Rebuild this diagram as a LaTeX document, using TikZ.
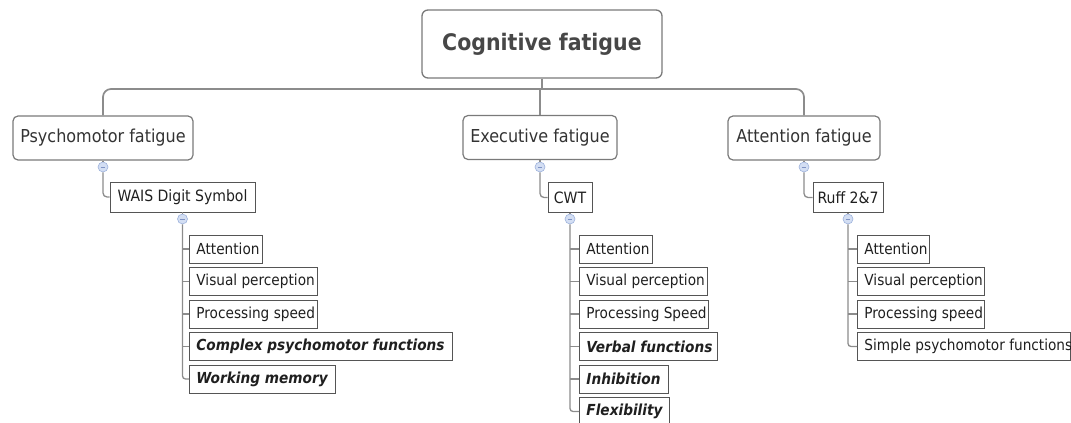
\documentclass[tikz,border=0pt]{standalone}
\usepackage{fontspec}
\setmainfont{DejaVu Sans Condensed}
\definecolor{edge}{HTML}{8C8C8C}
\definecolor{rbord}{HTML}{7A7A7A}
\definecolor{sbord}{HTML}{555555}
\definecolor{roottext}{HTML}{474747}
\definecolor{topictext}{HTML}{333333}
\definecolor{mfill}{HTML}{D3DEF3}
\definecolor{mdraw}{HTML}{9DB2DC}
\definecolor{mbar}{HTML}{7F93C4}
\newcommand\leafnode[5]{\node[leaf] (#1) at (#2,#3) {\makebox[\dimexpr#4pt-14pt\relax][l]{#5}};}
\newcommand\bi[1]{\textbf{\textit{#1}}}
\tikzset{
  rootbox/.style={draw=rbord, line width=1.3pt, rounded corners=6pt, minimum width=240pt, minimum height=68pt, inner sep=0pt, font=\fontsize{22.8}{26}\selectfont\bfseries, text=roottext},
  topic/.style={draw=rbord, line width=1.2pt, rounded corners=5pt, minimum height=44pt, inner sep=0pt, font=\fontsize{17.8}{20}\selectfont, text=topictext},
  sub/.style={draw=sbord, line width=0.9pt, minimum height=30pt, inner sep=0pt, font=\fontsize{15.6}{18}\selectfont, text=black!88},
  leaf/.style={draw=sbord, line width=0.9pt, minimum height=28pt, inner xsep=7pt, inner ysep=0pt, font=\fontsize{15.2}{17}\selectfont, text=black!88, anchor=west},
  minus/.style={circle, draw=mdraw, fill=mfill, line width=0.6pt, minimum size=10pt, inner sep=0pt,
    path picture={\draw[mbar, line width=0.7pt] ([xshift=-2.4pt]path picture bounding box.center) -- ([xshift=2.4pt]path picture bounding box.center);}},
  conn/.style={draw=edge, line width=1.7pt},
  conn2/.style={draw=edge, line width=1.3pt}
}
\begin{document}
\begin{tikzpicture}[x=1pt, y=-1pt]
\useasboundingbox (0,0) rectangle (1071,423);
% root and bus
\node[rootbox] (root) at (542,44) {Cognitive fatigue};
\coordinate (bus) at (0,89);
% topics
\node[topic, minimum width=180pt] (psy) at (103,138) {Psychomotor fatigue};
\node[topic, minimum width=154pt] (exe) at (540,137.5) {Executive fatigue};
\node[topic, minimum width=152pt] (att) at (804,138) {Attention fatigue};
% minus markers under topics
\node[minus] (c1) at (103,167) {};
\node[minus] (c2) at (540,167) {};
\node[minus] (c3) at (804,167) {};
% sub nodes
\node[sub, minimum width=145pt] (wais) at (182.5,197) {WAIS Digit Symbol};
\node[sub, minimum width=44pt] (cwt) at (570,197.5) {CWT};
\node[sub, minimum width=70pt] (ruff) at (848,197.5) {Ruff 2\&7};
% minus markers under subs
\node[minus] (d1) at (182.5,219) {};
\node[minus] (d2) at (570,219) {};
\node[minus] (d3) at (848,219) {};
% leaves: psychomotor
\leafnode{p1}{189}{249}{73}{Attention}
\leafnode{p2}{189}{281.5}{128}{Visual perception}
\leafnode{p3}{189}{314}{128}{Processing speed}
\leafnode{p4}{189}{346.5}{263}{\bi{Complex psychomotor functions}}
\leafnode{p5}{189}{379}{146}{\bi{Working memory}}
% leaves: executive
\leafnode{e1}{579}{249}{73}{Attention}
\leafnode{e2}{579}{281.5}{128}{Visual perception}
\leafnode{e3}{579}{314}{129}{Processing Speed}
\leafnode{e4}{579}{346.5}{138}{\bi{Verbal functions}}
\leafnode{e5}{579}{379}{89}{\bi{Inhibition}}
\leafnode{e6}{579}{411.5}{90}{\bi{Flexibility}}
% leaves: attention
\leafnode{a1}{857}{249}{72}{Attention}
\leafnode{a2}{857}{281.5}{127}{Visual perception}
\leafnode{a3}{857}{314}{127}{Processing speed}
\leafnode{a4}{857}{346.5}{213}{Simple psychomotor functions}
% top connectors
\draw[conn, rounded corners=8pt] (psy.north) -- (psy.north |- bus) -- (att.north |- bus) -- (att.north);
\draw[conn] (root.south) -- (root.south |- bus) -- (exe.north |- bus) -- (exe.north);
% topic to marker
\draw[conn2] (psy.south) -- (c1.north);
\draw[conn2] (exe.south) -- (c2.north);
\draw[conn2] (att.south) -- (c3.north);
% marker to sub
\draw[conn2, rounded corners=4pt] (c1.south) -- (c1.south |- wais.west) -- (wais.west);
\draw[conn2, rounded corners=4pt] (c2.south) -- (c2.south |- cwt.west) -- (cwt.west);
\draw[conn2, rounded corners=4pt] (c3.south) -- (c3.south |- ruff.west) -- (ruff.west);
% sub to marker
\draw[conn2] (wais.south) -- (d1.north);
\draw[conn2] (cwt.south) -- (d2.north);
\draw[conn2] (ruff.south) -- (d3.north);
% marker to leaves
\draw[conn2, rounded corners=3pt] (d1.south) -- (d1.south |- p5.west) -- (p5.west);
\foreach \n in {p1,p2,p3,p4} \draw[conn2] (d1.south |- \n.west) -- (\n.west);
\draw[conn2, rounded corners=3pt] (d2.south) -- (d2.south |- e6.west) -- (e6.west);
\foreach \n in {e1,e2,e3,e4,e5} \draw[conn2] (d2.south |- \n.west) -- (\n.west);
\draw[conn2, rounded corners=3pt] (d3.south) -- (d3.south |- a4.west) -- (a4.west);
\foreach \n in {a1,a2,a3} \draw[conn2] (d3.south |- \n.west) -- (\n.west);
\end{tikzpicture}
\end{document}
